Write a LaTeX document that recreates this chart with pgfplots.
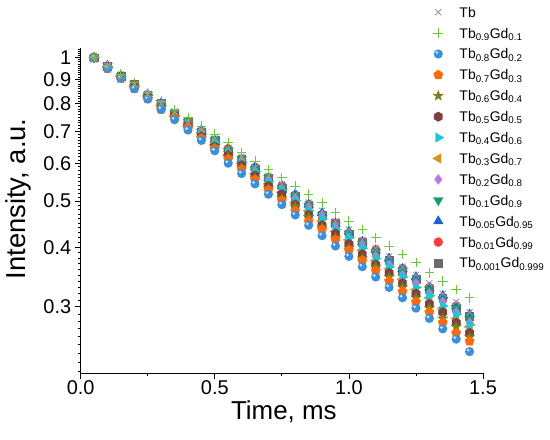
\documentclass[border=0pt]{standalone}
\usepackage{pgfplots}
\pgfplotsset{compat=1.18}
\usepackage{pgfplotstable}
\usetikzlibrary{plotmarks}
\usepackage{fontspec}
\setmainfont{Liberation Sans}

\definecolor{cTb}{HTML}{999999}
\definecolor{cA}{HTML}{66CC33}
\definecolor{cB}{HTML}{3C8FD8}
\definecolor{cBl}{HTML}{C8E2F7}
\definecolor{cC}{HTML}{FF6A0D}
\definecolor{cD}{HTML}{7F7F1A}
\definecolor{cE}{HTML}{7D4141}
\definecolor{cF}{HTML}{1CC6D6}
\definecolor{cG}{HTML}{D8931A}
\definecolor{cH}{HTML}{B77AE6}
\definecolor{cI}{HTML}{12A060}
\definecolor{cJ}{HTML}{1464D2}
\definecolor{cK}{HTML}{FF3B3B}
\definecolor{cL}{HTML}{6B6B6B}

\pgfdeclareplotmark{fstar}{%
 \pgfpathmoveto{\pgfqpoint{0pt}{1.3\pgfplotmarksize}}%
 \pgfpathlineto{\pgfqpoint{-0.321\pgfplotmarksize}{0.442\pgfplotmarksize}}%
 \pgfpathlineto{\pgfqpoint{-1.236\pgfplotmarksize}{0.402\pgfplotmarksize}}%
 \pgfpathlineto{\pgfqpoint{-0.519\pgfplotmarksize}{-0.169\pgfplotmarksize}}%
 \pgfpathlineto{\pgfqpoint{-0.764\pgfplotmarksize}{-1.052\pgfplotmarksize}}%
 \pgfpathlineto{\pgfqpoint{0pt}{-0.546\pgfplotmarksize}}%
 \pgfpathlineto{\pgfqpoint{0.764\pgfplotmarksize}{-1.052\pgfplotmarksize}}%
 \pgfpathlineto{\pgfqpoint{0.519\pgfplotmarksize}{-0.169\pgfplotmarksize}}%
 \pgfpathlineto{\pgfqpoint{1.236\pgfplotmarksize}{0.402\pgfplotmarksize}}%
 \pgfpathlineto{\pgfqpoint{0.321\pgfplotmarksize}{0.442\pgfplotmarksize}}%
 \pgfpathclose\pgfusepathqfillstroke}
\pgfdeclareplotmark{fhex}{%
 \pgfpathmoveto{\pgfqpoint{0pt}{\pgfplotmarksize}}%
 \pgfpathlineto{\pgfqpoint{-0.866\pgfplotmarksize}{0.5\pgfplotmarksize}}%
 \pgfpathlineto{\pgfqpoint{-0.866\pgfplotmarksize}{-0.5\pgfplotmarksize}}%
 \pgfpathlineto{\pgfqpoint{0pt}{-\pgfplotmarksize}}%
 \pgfpathlineto{\pgfqpoint{0.866\pgfplotmarksize}{-0.5\pgfplotmarksize}}%
 \pgfpathlineto{\pgfqpoint{0.866\pgfplotmarksize}{0.5\pgfplotmarksize}}%
 \pgfpathclose\pgfusepathqfillstroke}
\pgfdeclareplotmark{sph}{%
 \pgfsetfillcolor{cB}%
 \pgfpathcircle{\pgfpointorigin}{\pgfplotmarksize}\pgfusepathqfill
 \pgfsetfillcolor{cBl}%
 \pgfpathcircle{\pgfqpoint{-0.3\pgfplotmarksize}{0.32\pgfplotmarksize}}{0.33\pgfplotmarksize}\pgfusepathqfill}

\pgfplotstableread{
t    Tb     A      B      C      D      E      F      G      H      I      J      K      L
0.05 1.0000 1.0000 1.0000 1.0000 1.0000 1.0000 1.0000 1.0000 1.0000 1.0000 1.0000 1.0000 1.0000
0.10 0.9608 0.9608 0.9512 0.9512 0.9512 0.9512 0.9512 0.9512 0.9512 0.9608 0.9608 0.9608 0.9608
0.15 0.9139 0.9231 0.9048 0.9048 0.9048 0.9139 0.9139 0.9139 0.9139 0.9139 0.9139 0.9139 0.9139
0.20 0.8781 0.8869 0.8607 0.8607 0.8694 0.8694 0.8694 0.8694 0.8694 0.8781 0.8781 0.8781 0.8781
0.25 0.8353 0.8437 0.8187 0.8187 0.8270 0.8270 0.8353 0.8270 0.8353 0.8353 0.8353 0.8353 0.8353
0.30 0.8025 0.8106 0.7788 0.7788 0.7866 0.7866 0.7945 0.7945 0.7945 0.8025 0.8025 0.8025 0.8025
0.35 0.7711 0.7788 0.7408 0.7483 0.7483 0.7558 0.7558 0.7558 0.7634 0.7634 0.7634 0.7634 0.7634
0.40 0.7334 0.7483 0.7047 0.7118 0.7118 0.7189 0.7261 0.7189 0.7261 0.7334 0.7334 0.7334 0.7334
0.45 0.7047 0.7189 0.6703 0.6771 0.6771 0.6839 0.6907 0.6907 0.6977 0.6977 0.7047 0.6977 0.6977
0.50 0.6771 0.6907 0.6376 0.6440 0.6505 0.6505 0.6637 0.6570 0.6637 0.6703 0.6703 0.6703 0.6703
0.55 0.6440 0.6637 0.6005 0.6126 0.6188 0.6250 0.6313 0.6250 0.6313 0.6376 0.6440 0.6440 0.6376
0.60 0.6188 0.6313 0.5712 0.5827 0.5886 0.5945 0.6005 0.6005 0.6065 0.6126 0.6126 0.6126 0.6126
0.65 0.5886 0.6065 0.5434 0.5543 0.5599 0.5655 0.5769 0.5712 0.5769 0.5827 0.5886 0.5886 0.5827
0.70 0.5655 0.5827 0.5169 0.5273 0.5326 0.5379 0.5488 0.5434 0.5543 0.5599 0.5599 0.5599 0.5599
0.75 0.5434 0.5599 0.4916 0.5016 0.5066 0.5169 0.5273 0.5220 0.5273 0.5326 0.5379 0.5379 0.5326
0.80 0.5169 0.5379 0.4677 0.4771 0.4868 0.4916 0.5016 0.4966 0.5066 0.5117 0.5169 0.5117 0.5117
0.85 0.4966 0.5169 0.4449 0.4538 0.4630 0.4677 0.4771 0.4771 0.4819 0.4868 0.4916 0.4916 0.4916
0.90 0.4771 0.4966 0.4232 0.4360 0.4404 0.4449 0.4584 0.4538 0.4630 0.4677 0.4724 0.4677 0.4677
0.95 0.4538 0.4724 0.4025 0.4148 0.4190 0.4274 0.4360 0.4317 0.4404 0.4449 0.4493 0.4493 0.4493
1.00 0.4360 0.4538 0.3829 0.3946 0.3985 0.4066 0.4190 0.4148 0.4190 0.4274 0.4317 0.4274 0.4274
1.05 0.4148 0.4360 0.3642 0.3753 0.3791 0.3867 0.3985 0.3946 0.4025 0.4066 0.4107 0.4107 0.4107
1.10 0.3985 0.4190 0.3465 0.3570 0.3642 0.3679 0.3791 0.3753 0.3829 0.3906 0.3946 0.3946 0.3906
1.15 0.3829 0.4025 0.3296 0.3396 0.3465 0.3535 0.3642 0.3606 0.3679 0.3716 0.3791 0.3753 0.3753
1.20 0.3642 0.3867 0.3135 0.3230 0.3296 0.3362 0.3465 0.3430 0.3499 0.3570 0.3606 0.3606 0.3570
1.25 0.3499 0.3716 0.2982 0.3073 0.3135 0.3198 0.3296 0.3263 0.3362 0.3396 0.3465 0.3430 0.3430
1.30 0.3362 0.3535 0.2837 0.2923 0.2982 0.3042 0.3166 0.3135 0.3198 0.3263 0.3296 0.3296 0.3263
1.35 0.3198 0.3396 0.2698 0.2780 0.2837 0.2923 0.3012 0.2982 0.3073 0.3104 0.3166 0.3135 0.3135
1.40 0.3073 0.3263 0.2567 0.2645 0.2725 0.2780 0.2894 0.2837 0.2923 0.2982 0.3012 0.3012 0.2982
1.45 0.2923 0.3135 0.2417 0.2541 0.2592 0.2645 0.2753 0.2725 0.2780 0.2837 0.2894 0.2865 0.2865
}\data

\begin{document}
\begin{tikzpicture}
\path[use as bounding box] (0,0) rectangle (550bp,440bp);
\begin{axis}[
  at={(80.7bp,67bp)}, anchor=south west,
  scale only axis, width=402.3bp, height=324.7bp,
  xmin=0, xmax=1.5, ymin=0.218, ymax=1.046, ymode=log,
  axis lines=left, axis line style={-, line width=0.9bp},
  xtick={0,0.5,1,1.5}, xticklabels={0.0,0.5,1.0,1.5},
  minor xtick={0.25,0.75,1.25},
  ytick={0.3,0.4,0.5,0.6,0.7,0.8,0.9,1},
  yticklabels={0.3,0.4,0.5,0.6,0.7,0.8,0.9,1},
  minor ytick={0.22,0.23,0.24,0.25,0.26,0.27,0.28,0.29,0.31,0.32,0.33,0.34,0.35,0.36,0.37,0.38,0.39,0.41,0.42,0.43,0.44,0.45,0.46,0.47,0.48,0.49,0.51,0.52,0.53,0.54,0.55,0.56,0.57,0.58,0.59,0.61,0.62,0.63,0.64,0.65,0.66,0.67,0.68,0.69,0.71,0.72,0.73,0.74,0.75,0.76,0.77,0.78,0.79,0.81,0.82,0.83,0.84,0.85,0.86,0.87,0.88,0.89,0.91,0.92,0.93,0.94,0.95,0.96,0.97,0.98,0.99,1.01,1.02,1.03,1.04},
  tick align=outside,
  major tick length=6bp, minor tick length=3bp,
  tick style={black, line width=0.8bp},
  /pgf/number format/assume math mode=true,
  ticklabel style={font=\fontsize{20}{23}\selectfont},
  xticklabel style={yshift=1.5bp},
  xlabel style={font=\fontsize{26}{30}\selectfont, at={(axis description cs:0.505,-0.1447)}, anchor=base},
  ylabel style={font=\fontsize{27.5}{31}\selectfont, at={(axis description cs:-0.136,0.536)}, anchor=base},
  xlabel={Time, ms}, ylabel={Intensity, a.u.},
  legend style={draw=none, fill=none, at={(axis description cs:0.868,1.144)}, anchor=north west,
    inner sep=0pt, font=\fontsize{14}{16}\selectfont,
    nodes={inner xsep=0pt, inner ysep=3.45bp, text height=12bp, text depth=2bp}},
  legend cell align=left, reverse legend,
  legend image code/.code={\path (0bp,0bp) (29bp,0bp); \draw[#1] plot coordinates {(8bp,0bp)};},
  every axis plot/.append style={only marks},
]
\addplot[color=cL, mark=square*, mark size=3.9bp] table[x=t,y=L] {\data};
\addlegendentry{Tb\textsubscript{0.001}Gd\textsubscript{0.999}}
\addplot[color=cK, mark=*, mark size=4.5bp] table[x=t,y=K] {\data};
\addlegendentry{Tb\textsubscript{0.01}Gd\textsubscript{0.99}}
\addplot[color=cJ, mark=triangle*, mark size=5.5bp] table[x=t,y=J] {\data};
\addlegendentry{Tb\textsubscript{0.05}Gd\textsubscript{0.95}}
\addplot[color=cI, mark=triangle*, mark size=5.5bp, mark options={rotate=180}] table[x=t,y=I] {\data};
\addlegendentry{Tb\textsubscript{0.1}Gd\textsubscript{0.9}}
\addplot[color=cH, mark=diamond*, mark size=5bp] table[x=t,y=H] {\data};
\addlegendentry{Tb\textsubscript{0.2}Gd\textsubscript{0.8}}
\addplot[color=cG, mark=triangle*, mark size=5.5bp, mark options={rotate=90}] table[x=t,y=G] {\data};
\addlegendentry{Tb\textsubscript{0.3}Gd\textsubscript{0.7}}
\addplot[color=cF, mark=triangle*, mark size=5.5bp, mark options={rotate=-90}] table[x=t,y=F] {\data};
\addlegendentry{Tb\textsubscript{0.4}Gd\textsubscript{0.6}}
\addplot[color=cE, mark=fhex, mark size=4.8bp] table[x=t,y=E] {\data};
\addlegendentry{Tb\textsubscript{0.5}Gd\textsubscript{0.5}}
\addplot[color=cD, mark=fstar, mark size=4.1bp] table[x=t,y=D] {\data};
\addlegendentry{Tb\textsubscript{0.6}Gd\textsubscript{0.4}}
\addplot[color=cC, mark=pentagon*, mark size=4.9bp] table[x=t,y=C] {\data};
\addlegendentry{Tb\textsubscript{0.7}Gd\textsubscript{0.3}}
\addplot[color=cB, mark=sph, mark size=4.6bp] table[x=t,y=B] {\data};
\addlegendentry{Tb\textsubscript{0.8}Gd\textsubscript{0.2}}
\addplot[color=cA, mark=+, mark size=4.8bp, mark options={line width=0.9bp}] table[x=t,y=A] {\data};
\addlegendentry{Tb\textsubscript{0.9}Gd\textsubscript{0.1}}
\addplot[color=cTb, mark=x, mark size=4.3bp, mark options={line width=0.9bp}] table[x=t,y=Tb] {\data};
\addlegendentry{Tb}
\end{axis}
\end{tikzpicture}
\end{document}
